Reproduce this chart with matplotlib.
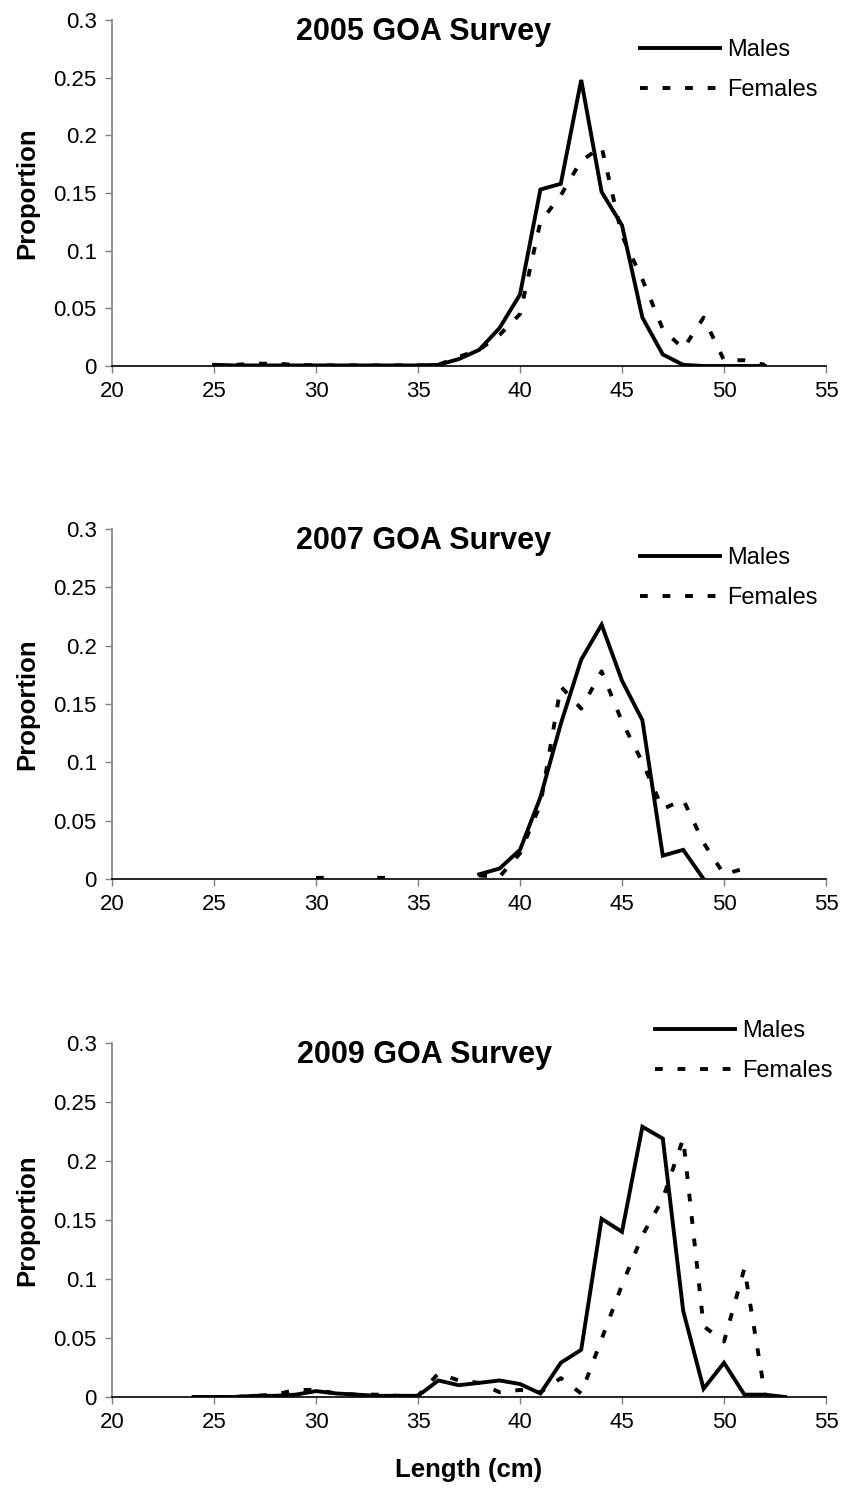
import numpy as np
import matplotlib.pyplot as plt

plt.rcParams['font.family'] = ['Liberation Sans', 'DejaVu Sans']

# Painel 2005
comp_2005 = np.arange(25, 53)
machos_2005 = [0.001, 0.0005, 0.0005, 0.0005, 0.0005, 0.0005, 0.0005, 0.0005, 0.0005, 0.0005,
               0.0005, 0.001, 0.006, 0.014, 0.033, 0.062, 0.153, 0.158, 0.248, 0.151,
               0.122, 0.042, 0.01, 0.001, 0.0, 0.0, 0.0, 0.0]
femeas_2005 = [0.0, 0.001, 0.002, 0.002, 0.001, 0.0005, 0.0005, 0.0005, 0.0005, 0.0005,
               0.0005, 0.001, 0.008, 0.014, 0.027, 0.045, 0.125, 0.148, 0.178, 0.19,
               0.113, 0.075, 0.032, 0.015, 0.042, 0.005, 0.005, 0.001]

# Painel 2007
comp_2007_m = np.arange(38, 50)
machos_2007 = [0.004, 0.009, 0.025, 0.07, 0.133, 0.188, 0.218, 0.17, 0.136, 0.02, 0.025, 0.0]
comp_2007_f = np.arange(30, 52)
femeas_2007 = [0.001, 0.001, np.nan, 0.001, 0.001, np.nan, np.nan, np.nan,
               0.003, 0.002, 0.022, 0.064, 0.165, 0.146, 0.178, 0.135, 0.1, 0.06,
               0.068, 0.031, 0.004, 0.009]

# Painel 2009
comp_2009_m = np.arange(24, 54)
machos_2009 = [0.0, 0.0, 0.0, 0.001, 0.001, 0.002, 0.005, 0.003, 0.002, 0.001,
               0.001, 0.001, 0.014, 0.01, 0.012, 0.014, 0.011, 0.003, 0.029, 0.04,
               0.151, 0.14, 0.229, 0.219, 0.073, 0.007, 0.029, 0.002, 0.002, 0.0]
comp_2009_f = np.arange(25, 53)
femeas_2009 = [0.0, 0.0, 0.001, 0.002, 0.006, 0.006, 0.003, 0.002, 0.002, 0.001,
               0.001, 0.02, 0.014, 0.012, 0.004, 0.006, 0.004, 0.016, 0.003, 0.049,
               0.095, 0.137, 0.168, 0.219, 0.06, 0.047, 0.109, 0.003]

titulos = ['2005 GOA Survey', '2007 GOA Survey', '2009 GOA Survey']
series = [
    (comp_2005, machos_2005, comp_2005, femeas_2005),
    (comp_2007_m, machos_2007, comp_2007_f, femeas_2007),
    (comp_2009_m, machos_2009, comp_2009_f, femeas_2009),
]

W, H = 846, 1490
fig = plt.figure(figsize=(W / 100, H / 100), dpi=100, facecolor='white')

# posicoes dos paineis em pixels (topo, base)
paineis = [(20, 366), (529, 879), (1043, 1397)]
# posicao da legenda (x da linha, y da linha Males) em pixels
legendas = [(640, 55), (640, 563), (655, 1036)]
esq, dir_ = 112, 826

for i, ((xm, ym, xf, yf), titulo) in enumerate(zip(series, titulos)):
    topo, base = paineis[i]
    ax = fig.add_axes([esq / W, 1 - base / H, (dir_ - esq) / W, (base - topo) / H])

    lm, = ax.plot(xm, ym, color='black', lw=2.8, solid_joinstyle='miter', label='Males')
    lf, = ax.plot(xf, yf, color='black', lw=2.8, dashes=(2, 3.8),
                  dash_capstyle='butt', label='Females')

    ax.set_xlim(20, 55)
    ax.set_ylim(0, 0.3)
    ax.set_xticks(np.arange(20, 56, 5))
    ax.set_yticks(np.arange(0, 0.301, 0.05))
    ax.set_yticklabels(['0', '0.05', '0.1', '0.15', '0.2', '0.25', '0.3'])

    ax.spines['top'].set_visible(False)
    ax.spines['right'].set_visible(False)
    ax.spines['left'].set_color('#808080')
    ax.spines['left'].set_linewidth(1.2)
    ax.spines['bottom'].set_color('black')
    ax.spines['bottom'].set_linewidth(1.2)
    ax.tick_params(axis='both', direction='out', length=5, width=1,
                   color='#808080', labelsize=16, pad=6)

    ax.set_ylabel('Proportion', fontsize=18.5, fontweight='bold', labelpad=10)
    ax.text(0.437, 0.965, titulo, transform=ax.transAxes, ha='center', va='center',
            fontsize=22, fontweight='bold')

    lx, ly = legendas[i]
    fig.legend(handles=[lm, lf], loc='upper left',
               bbox_to_anchor=(lx / W, 1 - (ly - 16) / H), bbox_transform=fig.transFigure,
               frameon=False, fontsize=17, handlelength=3.4, handletextpad=0.3,
               labelspacing=0.78, borderpad=0, borderaxespad=0)

    if i == 2:
        ax.set_xlabel('Length (cm)', fontsize=18.5, fontweight='bold', labelpad=18)

fig.savefig('out.png', dpi=100, facecolor='white')
